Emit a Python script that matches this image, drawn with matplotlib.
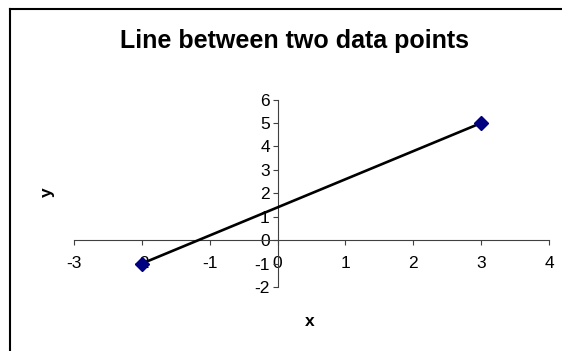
import matplotlib
matplotlib.use("Agg")
import matplotlib.pyplot as plt
from matplotlib.lines import Line2D

# the two data points
x_vals = [-2, 3]
y_vals = [-1, 5]

x_ticks = [-3, -2, -1, 0, 1, 2, 3, 4]
y_ticks = [-2, -1, 0, 1, 2, 3, 4, 5, 6]

W, H = 562, 351
plt.rcParams['font.family'] = ['Liberation Sans', 'DejaVu Sans']
plt.rcParams['axes.unicode_minus'] = False

fig = plt.figure(figsize=(W / 100, H / 100), dpi=100)
fig.patch.set_facecolor('white')

# plot area in pixels (left, right, top, bottom)
px_l, px_r, px_t, px_b = 74, 549, 99.6, 287
ax = fig.add_axes([px_l / W, 1 - px_b / H, (px_r - px_l) / W, (px_b - px_t) / H])
ax.set_facecolor('none')

ax.plot(x_vals, y_vals, color='black', lw=1.9, zorder=3, clip_on=False)
ax.plot(x_vals, y_vals, ls='none', marker='D', markersize=7,
        markerfacecolor='#000080', markeredgecolor='#000080', zorder=4, clip_on=False)

ax.set_xlim(-3, 4)
ax.set_ylim(-2, 6)
ax.set_xticks(x_ticks)
ax.set_yticks(y_ticks)

# axes cross at the origin
ax.spines['left'].set_position(('data', 0))
ax.spines['bottom'].set_position(('data', 0))
ax.spines['top'].set_visible(False)
ax.spines['right'].set_visible(False)
for s in ('left', 'bottom'):
    ax.spines[s].set_color('#404040')
    ax.spines[s].set_linewidth(0.8)

ax.tick_params(axis='x', direction='out', length=3.6, width=0.8, color='#404040',
               pad=7.5, labelsize=12.5, labelcolor='black')
ax.tick_params(axis='y', direction='out', length=3.6, width=0.8, color='#404040',
               pad=2, labelsize=12.5, labelcolor='black')

# titles
fig.text(295 / W, 1 - 41 / H, 'Line between two data points', ha='center', va='center',
         fontsize=18, fontweight='bold')
fig.text(310 / W, 1 - 322 / H, 'x', ha='center', va='center', fontsize=12.5, fontweight='bold')
fig.text(47 / W, 1 - 192 / H, 'y', ha='center', va='center', fontsize=12.5,
         fontweight='bold', rotation=90)

# chart area border (runs off the right and bottom edge)
bx, by = 10 / W, 1 - 9 / H
fig.add_artist(Line2D([bx, bx], [by, -0.1], color='black', lw=1.5, transform=fig.transFigure))
fig.add_artist(Line2D([bx, 1.1], [by, by], color='black', lw=1.5, transform=fig.transFigure))

fig.savefig('out.png', dpi=100)
